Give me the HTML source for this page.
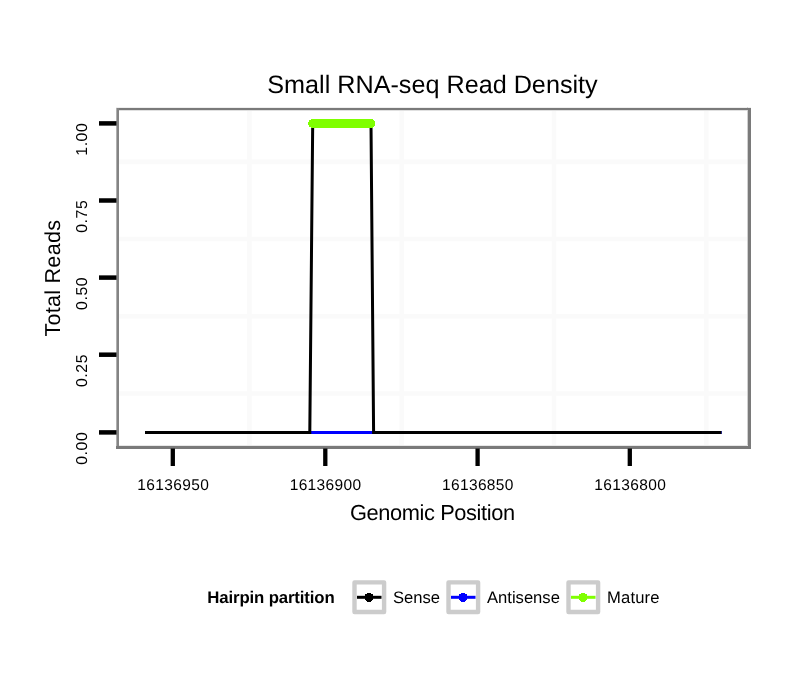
<!DOCTYPE html>
<html><head><meta charset="utf-8">
<style>
html,body{margin:0;padding:0;background:#fff;width:810px;height:690px;overflow:hidden}
svg{position:absolute;left:0;top:0;display:block;will-change:transform}
text{font-family:"Liberation Sans",sans-serif;fill:#000;text-rendering:geometricPrecision}
</style></head><body>
<svg width="810" height="690" viewBox="0 0 810 690">
<rect x="0" y="0" width="810" height="690" fill="#fff"/>
<!-- minor gridlines -->
<g stroke="#fafafa" stroke-width="4.6" fill="none">
<line x1="118" y1="161.9" x2="749" y2="161.9"/>
<line x1="118" y1="239" x2="749" y2="239"/>
<line x1="118" y1="316.2" x2="749" y2="316.2"/>
<line x1="118" y1="393.5" x2="749" y2="393.5"/>
<line x1="249.4" y1="110" x2="249.4" y2="446"/>
<line x1="401.7" y1="110" x2="401.7" y2="446"/>
<line x1="554" y1="110" x2="554" y2="446"/>
<line x1="706.3" y1="110" x2="706.3" y2="446"/>
</g>
<!-- data -->
<line x1="145.2" y1="432.5" x2="721.7" y2="432.5" stroke="#0000ff" stroke-width="3"/>
<polyline points="145,432.5 309.8,432.5 312.7,123.4 371,123.4 373.6,432.5 721.5,432.5" fill="none" stroke="#000" stroke-width="3" stroke-linejoin="miter"/>
<g fill="#7fff00" shape-rendering="crispEdges"><circle cx="312.9" cy="123.5" r="4.6"/><circle cx="314.9" cy="123.5" r="4.6"/><circle cx="316.9" cy="123.5" r="4.6"/><circle cx="318.9" cy="123.5" r="4.6"/><circle cx="320.9" cy="123.5" r="4.6"/><circle cx="322.9" cy="123.5" r="4.6"/><circle cx="324.9" cy="123.5" r="4.6"/><circle cx="326.9" cy="123.5" r="4.6"/><circle cx="328.8" cy="123.5" r="4.6"/><circle cx="330.8" cy="123.5" r="4.6"/><circle cx="332.8" cy="123.5" r="4.6"/><circle cx="334.8" cy="123.5" r="4.6"/><circle cx="336.8" cy="123.5" r="4.6"/><circle cx="338.8" cy="123.5" r="4.6"/><circle cx="340.8" cy="123.5" r="4.6"/><circle cx="342.8" cy="123.5" r="4.6"/><circle cx="344.8" cy="123.5" r="4.6"/><circle cx="346.8" cy="123.5" r="4.6"/><circle cx="348.8" cy="123.5" r="4.6"/><circle cx="350.8" cy="123.5" r="4.6"/><circle cx="352.8" cy="123.5" r="4.6"/><circle cx="354.8" cy="123.5" r="4.6"/><circle cx="356.7" cy="123.5" r="4.6"/><circle cx="358.7" cy="123.5" r="4.6"/><circle cx="360.7" cy="123.5" r="4.6"/><circle cx="362.7" cy="123.5" r="4.6"/><circle cx="364.7" cy="123.5" r="4.6"/><circle cx="366.7" cy="123.5" r="4.6"/><circle cx="368.7" cy="123.5" r="4.6"/><circle cx="370.7" cy="123.5" r="4.6"/></g>
<!-- panel border -->
<g fill="#7a7a7a">
<rect x="116" y="107" width="635" height="1" fill="#efefef"/>
<rect x="116" y="110" width="635" height="1" fill="#e0e0e0"/>
<rect x="747" y="107" width="1" height="342" fill="#d0d0d0"/>
<rect x="116" y="445" width="635" height="1" fill="#e8e8e8"/>
<rect x="116" y="108" width="635" height="2"/>
<rect x="116" y="108" width="1" height="341" fill="#b0b0b0"/>
<rect x="117" y="108" width="2" height="341" fill="#848484"/>
<rect x="748" y="108" width="3" height="341"/>
<rect x="116" y="446" width="635" height="3"/>
</g>
<!-- y ticks -->
<g stroke="#000" stroke-width="4.5">
<line x1="99" y1="123.4" x2="116.5" y2="123.4"/>
<line x1="99" y1="200.5" x2="116.5" y2="200.5"/>
<line x1="99" y1="277.6" x2="116.5" y2="277.6"/>
<line x1="99" y1="354.7" x2="116.5" y2="354.7"/>
<line x1="99" y1="432.4" x2="116.5" y2="432.4"/>
</g>
<!-- x ticks -->
<g stroke="#000" stroke-width="4.3">
<line x1="172.8" y1="448.5" x2="172.8" y2="466"/>
<line x1="325.3" y1="448.5" x2="325.3" y2="466"/>
<line x1="477.6" y1="448.5" x2="477.6" y2="466"/>
<line x1="629.8" y1="448.5" x2="629.8" y2="466"/>
</g>
<!-- y tick labels -->
<g font-size="15.8" text-anchor="end" letter-spacing="0.6">
<text transform="translate(87,122.6) rotate(-90)">1.00</text>
<text transform="translate(87,199.7) rotate(-90)">0.75</text>
<text transform="translate(87,276.8) rotate(-90)">0.50</text>
<text transform="translate(87,353.9) rotate(-90)">0.25</text>
<text transform="translate(87,431.7) rotate(-90)">0.00</text>
</g>
<!-- x tick labels -->
<g font-size="15.5" text-anchor="middle">
<text x="173" y="490" textLength="71.5" lengthAdjust="spacing">16136950</text>
<text x="325.4" y="490" textLength="71.5" lengthAdjust="spacing">16136900</text>
<text x="477.7" y="490" textLength="71.5" lengthAdjust="spacing">16136850</text>
<text x="630" y="490" textLength="71.5" lengthAdjust="spacing">16136800</text>
</g>
<!-- titles -->
<text x="432.5" y="93" font-size="25.2" text-anchor="middle">Small RNA-seq Read Density</text>
<text x="432.5" y="520" font-size="21.8" text-anchor="middle" textLength="165" lengthAdjust="spacing">Genomic Position</text>
<text transform="translate(60.3,278.3) rotate(-90)" font-size="21.6" text-anchor="middle" textLength="116.5" lengthAdjust="spacing">Total Reads</text>
<!-- legend -->
<text x="207.3" y="603.4" font-size="16.8" font-weight="bold" textLength="127.4" lengthAdjust="spacing">Hairpin partition</text>
<g fill="#fff" stroke="#cccccc" stroke-width="4.4" stroke-linejoin="round">
<rect x="354.5" y="582.4" width="29.6" height="29.6"/>
<rect x="448.5" y="582.4" width="29.6" height="29.6"/>
<rect x="568.5" y="582.4" width="29.6" height="29.6"/>
</g>
<line x1="357" y1="597.3" x2="381.5" y2="597.3" stroke="#000" stroke-width="3"/>
<circle cx="369" cy="597.3" r="4.6" fill="#000" shape-rendering="crispEdges"/>
<line x1="451" y1="597.3" x2="475.5" y2="597.3" stroke="#0000ff" stroke-width="3"/>
<circle cx="463" cy="597.3" r="4.6" fill="#0000ff" shape-rendering="crispEdges"/>
<line x1="571" y1="597.3" x2="595.5" y2="597.3" stroke="#7fff00" stroke-width="3"/>
<circle cx="583" cy="597.3" r="4.6" fill="#7fff00" shape-rendering="crispEdges"/>
<g font-size="16.6">
<text x="393" y="603.4">Sense</text>
<text x="487" y="603.4">Antisense</text>
<text x="607" y="603.4" letter-spacing="0.18">Mature</text>
</g>
</svg>
</body></html>
